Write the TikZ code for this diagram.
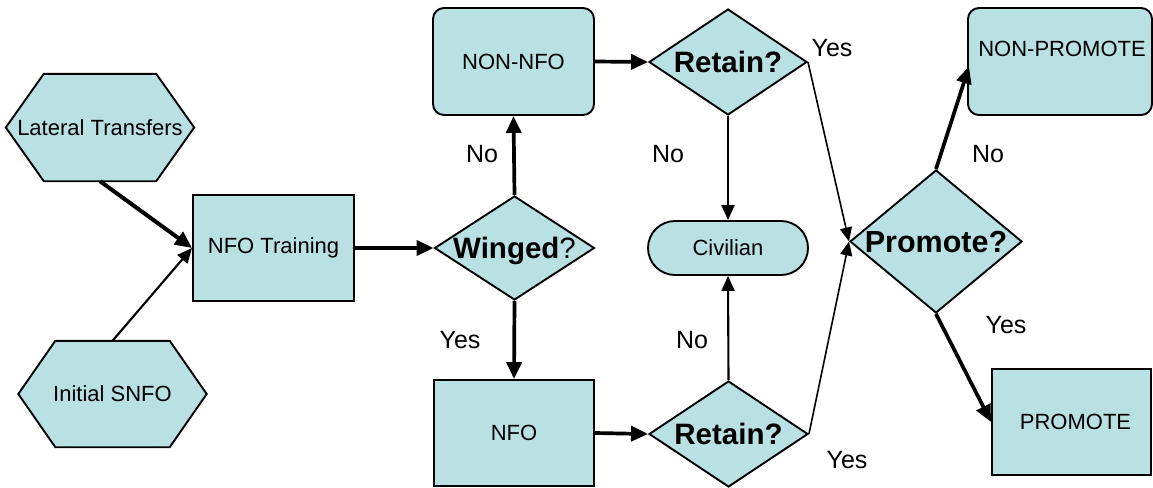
\documentclass[tikz,border=0pt]{standalone}
\usepackage{fontspec}
\setmainfont{Liberation Sans}
\usetikzlibrary{shapes.geometric,arrows.meta,calc}
\pgfdeclarelayer{background}
\pgfsetlayers{background,main}
\definecolor{boxfill}{RGB}{185,224,227}
\tikzset{
  shp/.style={draw=black, line width=1.9pt, fill=boxfill, inner sep=0pt,
              font=\fontsize{22}{26}\selectfont},
  boxnode/.style={shp, rectangle},
  rbox/.style={shp, rectangle, rounded corners=11pt},
  dia/.style={shp, diamond, text depth=0pt, font=\fontsize{29.5}{34}\selectfont\bfseries},
  hexbase/.style={rectangle, inner sep=0pt, font=\fontsize{22}{26}\selectfont},
  hexfill/.style={draw=black, line width=1.9pt, fill=boxfill, line join=miter},
  lbl/.style={font=\fontsize{25}{30}\selectfont, inner sep=0pt},
  txt/.style={font=\fontsize{22}{26}\selectfont, inner sep=0pt},
  heavy/.style={line width=3.7pt, -{Triangle[length=17pt,width=15pt]}},
  medium/.style={line width=2.1pt, -{Triangle[length=15pt,width=13pt]}},
  light/.style={line width=1.6pt, -{Triangle[length=14pt,width=12pt]}},
}
\begin{document}
\begin{tikzpicture}[x=1pt,y=-1pt]
\useasboundingbox (0,0) rectangle (1153,487);

% hexagons
\node[hexbase, minimum width=112pt, minimum height=107pt] (lt) at (100,127.5) {\makebox[0pt]{Lateral Transfers}};
\node[hexbase, minimum width=114pt, minimum height=106pt] (isnfo) at (112.5,394) {\makebox[0pt]{Initial SNFO}};
\begin{pgfonlayer}{background}
\draw[hexfill] (lt.north west) -- (lt.north east) -- ($(lt.east)+(38,0)$) -- (lt.south east)
  -- (lt.south west) -- ($(lt.west)-(38,0)$) -- cycle;
\draw[hexfill] (isnfo.north west) -- (isnfo.north east) -- ($(isnfo.east)+(37,0)$) -- (isnfo.south east)
  -- (isnfo.south west) -- ($(isnfo.west)-(37,0)$) -- cycle;
\end{pgfonlayer}

% boxes
\node[boxnode, minimum width=161pt, minimum height=106pt] (nfot) at (273.5,248) {NFO Training};
\node[rbox, minimum width=161pt, minimum height=107pt] (nonnfo) at (513.5,61.5) {NON-NFO};
\node[boxnode, minimum width=160pt, minimum height=106pt] (nfo) at (514,433) {NFO};
\node[shp, rectangle, rounded corners=27pt, minimum width=160pt, minimum height=54pt] (civ) at (728,248) {Civilian};
\node[rbox, minimum width=184pt, minimum height=107pt] (nonpro) at (1060,61.5) {};
\node[txt] (nonprotxt) at (1062,49) {NON-PROMOTE};
\node[boxnode, minimum width=159pt, minimum height=106pt] (promo) at (1071.5,422) {\makebox[0pt]{\hspace{8pt}PROMOTE}};

% diamonds
\node[dia, minimum width=160pt, minimum height=104pt] (winged) at (514.5,248) {\makebox[0pt]{Winged\mdseries?}};
\node[dia, minimum width=158pt, minimum height=106pt] (ret1) at (728,62) {\makebox[0pt]{Retain?}};
\node[dia, minimum width=159pt, minimum height=106pt] (ret2) at (728.5,434) {\makebox[0pt]{Retain?}};
\node[dia, minimum width=172pt, minimum height=143pt, font=\fontsize{30.5}{35}\selectfont\bfseries] (promote) at (936,241.5) {\makebox[0pt]{Promote?}};

% labels
\node[lbl] (l1) at (482,154) {No};
\node[lbl] (l2) at (668,154) {No};
\node[lbl] (l3) at (460,340) {Yes};
\node[lbl] (l4) at (692,340) {No};
\node[lbl] (l5) at (832,48) {Yes};
\node[lbl] (l6) at (847,460) {Yes};
\node[lbl] (l7) at (988,154) {No};
\node[lbl] (l8) at (1006,325) {Yes};

% connectors
\draw[heavy, line width=4pt] (lt.south) -- (nfot.west);
\draw[medium] (isnfo.north) -- (nfot.west);
\draw[heavy] (nfot.east) -- (winged.west);
\draw[heavy] (winged.north) -- (nonnfo.south);
\draw[heavy] (winged.south) -- (nfo.north);
\draw[heavy] (nonnfo.east) -- (ret1.west);
\draw[heavy] (nfo.east) -- (ret2.west);
\draw[medium] (ret1.south) -- (civ.north);
\draw[medium] (ret2.north) -- (civ.south);
\draw[light] (ret1.east) -- (promote.west);
\draw[light] (ret2.east) -- (promote.west);
\draw[heavy] (promote.north) -- ($(nonpro.west)+(2,5)$);
\draw[heavy] (promote.south) -- (promo.west);
\end{tikzpicture}
\end{document}
